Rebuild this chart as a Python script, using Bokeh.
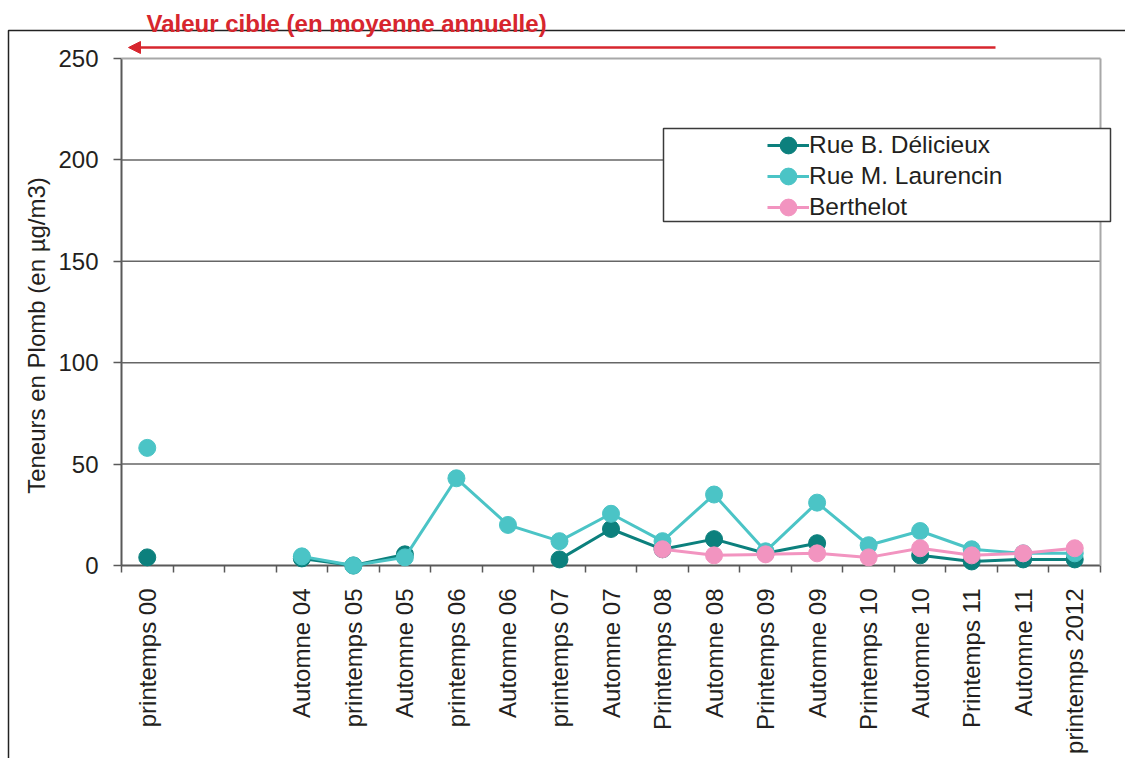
import math
from bokeh.plotting import figure
from bokeh.models import (Range1d, FixedTicker, BoxAnnotation, Label, Arrow,
                          NormalHead, Legend, LegendItem)
from bokeh.embed import file_html
from bokeh.resources import INLINE

nan = float("nan")

# ---------------- data ----------------
categories = ["printemps 00", "", "", "Automne 04", "printemps 05", "Automne 05",
              "printemps 06", "Automne 06", "printemps 07", "Automne 07",
              "Printemps 08", "Automne 08", "Printemps 09", "Automne 09",
              "Printemps 10", "Automne 10", "Printemps 11", "Automne 11",
              "printemps 2012"]
delicieux = [4, nan, nan, 3.5, 0, 5.5, nan, nan, 3, 18, 8, 13, 6, 11, nan, 5, 2, 3, 3]
laurencin = [58, nan, nan, 4.5, 0, 4, 43, 20, 12, 25.5, 12, 35, 7, 31, 10, 17, 8, 6, 6]
berthelot = [nan, nan, nan, nan, nan, nan, nan, nan, nan, nan,
             8, 5, 5.5, 6, 4, 8.5, 5, 6, 8.5]
y_ticks = [0, 50, 100, 150, 200, 250]
series_names = ["Rue B. Délicieux", "Rue M. Laurencin", "Berthelot"]
series_colors = ["#0c807d", "#4bc4c6", "#f294c0"]
target_text = "Valeur cible (en moyenne annuelle)"
y_title = "Teneurs en Plomb (en µg/m3)"

# ---------------- layout (pixels) ----------------
W, H = 1125, 758
PL, PR, PT, PB = 121, 1100, 58, 565          # plot area in page pixels
FONT = "Liberation Sans"
RED = "#d7262e"
TXT = "#231f20"

n = len(categories)
ymax = y_ticks[-1]
ppx = (PR - PL) / n
ppy = (PB - PT) / ymax


def sy(py):            # page y -> screen units (from frame bottom)
    return H - py


xpos = [i + 0.5 for i in range(n)]

p = figure(width=W, height=H, output_backend="svg", toolbar_location=None,
           x_range=Range1d(-PL / ppx, (W - PL) / ppx),
           y_range=Range1d(-(H - PB) / ppy, PB / ppy),
           min_border=0, min_border_left=0, min_border_right=0,
           min_border_top=0, min_border_bottom=0)
p.background_fill_color = "white"
p.border_fill_color = "white"
p.outline_line_color = None
p.xgrid.visible = False
p.ygrid.visible = False

# outer chart frame (top and left edges)
p.add_layout(BoxAnnotation(left=8, right=3000, top=sy(30), bottom=-3000,
                           left_units="screen", right_units="screen",
                           top_units="screen", bottom_units="screen",
                           fill_alpha=0, line_color="#222222", line_alpha=1,
                           line_width=1.5))

# horizontal grid lines and light plot border
grid_vals = [v for v in y_ticks if 0 < v < ymax]
p.segment(x0=[0] * len(grid_vals), y0=grid_vals, x1=[n] * len(grid_vals), y1=grid_vals,
          line_color="#666666", line_width=1.5)
p.segment(x0=[0, n], y0=[ymax, 0], x1=[n, n], y1=[ymax, ymax],
          line_color="#a8a8a8", line_width=2)

# axes (fixed at data origin)
xa = p.xaxis[0]
xa.fixed_location = 0
xa.bounds = (0, n)
xa.level = "underlay"
xa.ticker = FixedTicker(ticks=xpos, minor_ticks=list(range(n + 1)))
xa.major_label_overrides = {xpos[i]: categories[i] for i in range(n)}
xa.major_label_orientation = math.pi / 2
xa.major_tick_out = 0
xa.major_tick_in = 0
xa.minor_tick_out = 7
xa.minor_tick_in = 0
xa.minor_tick_line_color = "#595959"
xa.minor_tick_line_width = 1.5
xa.axis_line_color = "#595959"
xa.axis_line_width = 2
xa.major_label_text_font = FONT
xa.major_label_text_font_size = "24px"
xa.major_label_text_color = TXT
xa.major_label_standoff = 16

ya = p.yaxis[0]
ya.fixed_location = 0
ya.bounds = (0, ymax)
ya.level = "underlay"
ya.ticker = FixedTicker(ticks=y_ticks)
ya.major_tick_out = 8
ya.major_tick_in = 0
ya.minor_tick_out = 0
ya.minor_tick_in = 0
ya.major_tick_line_color = "#595959"
ya.major_tick_line_width = 1.5
ya.axis_line_color = "#595959"
ya.axis_line_width = 2
ya.major_label_text_font = FONT
ya.major_label_text_font_size = "24px"
ya.major_label_text_color = TXT
ya.major_label_standoff = 15

# series
items = []
for name, vals, col in zip(series_names, [delicieux, laurencin, berthelot], series_colors):
    ln = p.line(xpos, vals, line_color=col, line_width=3)
    sc = p.scatter(xpos, vals, size=17, fill_color=col, line_color=col)
    items.append(LegendItem(label=name, renderers=[ln, sc]))

# target arrow and label
p.add_layout(Arrow(x_start=995, y_start=sy(47), x_end=128, y_end=sy(47),
                   start_units="screen", end_units="screen",
                   line_color=RED, line_width=2.5,
                   end=NormalHead(size=12, fill_color=RED, line_color=RED)))
p.add_layout(Label(x=146, y=sy(23), x_units="screen", y_units="screen",
                   text=target_text, text_font=FONT, text_font_style="bold",
                   text_font_size="24px", text_color=RED,
                   text_baseline="alphabetic", text_align="left"))

# y title
p.add_layout(Label(x=36, y=sy(335), x_units="screen", y_units="screen",
                   text=y_title, angle=math.pi / 2, text_font=FONT,
                   text_font_size="24px", text_color=TXT,
                   text_align="center", text_baseline="middle"))

# legend box + one legend per row
p.add_layout(BoxAnnotation(left=663, right=1110, top=sy(128), bottom=sy(221),
                           left_units="screen", right_units="screen",
                           top_units="screen", bottom_units="screen",
                           fill_color="white", fill_alpha=1,
                           line_color="#3a3a3a", line_alpha=1, line_width=1.5))
GLYPH = 42
row_centers = [145, 176, 207]
for item, rc in zip(items, row_centers):
    lg = Legend(items=[item], location=(788 - GLYPH / 2, sy(rc + GLYPH / 2)),
                padding=0, margin=0, spacing=0,
                border_line_alpha=0, background_fill_alpha=0,
                glyph_width=GLYPH, glyph_height=GLYPH, label_height=31,
                label_standoff=0, label_text_font=FONT,
                label_text_font_size="24.5px", label_text_color=TXT)
    p.add_layout(lg)

open("out.html", "w").write(file_html(p, INLINE))
